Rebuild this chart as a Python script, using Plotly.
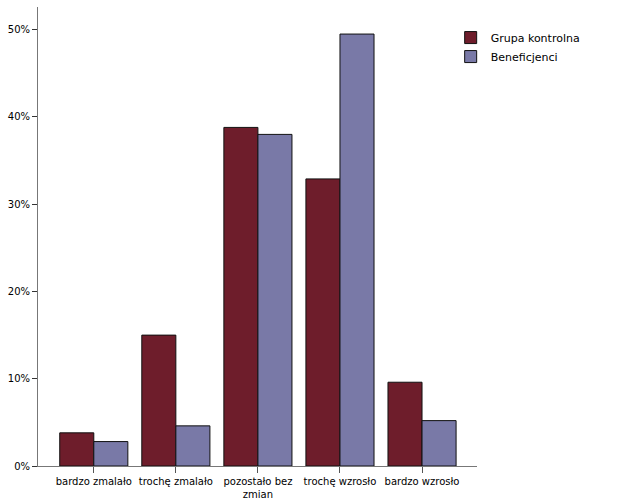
import plotly.graph_objects as go

categories = ["bardzo zmalało", "trochę zmalało", "pozostało bez<br>zmian", "trochę wzrosło", "bardzo wzrosło"]
grupa_kontrolna = [3.8, 15.0, 38.8, 32.9, 9.6]
beneficjenci = [2.8, 4.6, 38.0, 49.5, 5.2]
y_tickvals = [0, 10, 20, 30, 40, 50]
y_ticktext = ["0%", "10%", "20%", "30%", "40%", "50%"]

fig = go.Figure()
fig.add_trace(go.Bar(name="Grupa kontrolna", x=categories, y=grupa_kontrolna,
                     marker=dict(color="#6E1D2B", line=dict(color="#111111", width=1))))
fig.add_trace(go.Bar(name="Beneficjenci", x=categories, y=beneficjenci,
                     marker=dict(color="#7979A7", line=dict(color="#111111", width=1))))

fig.update_layout(
    width=629, height=504,
    barmode="group", bargap=0.17, bargroupgap=0,
    plot_bgcolor="white", paper_bgcolor="white",
    margin=dict(l=38, r=152, t=7, b=38, autoexpand=False),
    font=dict(family="DejaVu Sans", size=10, color="#000000"),
    legend=dict(x=0.94, xanchor="left", y=0.965, yanchor="top",
                font=dict(size=11), tracegroupgap=0, itemwidth=30,
                bgcolor="rgba(0,0,0,0)"),
    showlegend=True,
)
fig.update_xaxes(range=[-0.68, 4.67], showline=True, linecolor="#777777", linewidth=1,
                 ticks="outside", ticklen=6, tickcolor="#555555", showgrid=False,
                 tickangle=0, automargin=False, tickfont=dict(size=10))
fig.update_yaxes(range=[0, 52.6], showline=True, linecolor="#777777", linewidth=1,
                 ticks="outside", ticklen=5, tickcolor="#333333", showgrid=False,
                 tickvals=y_tickvals, ticktext=y_ticktext, zeroline=False,
                 automargin=False, tickfont=dict(size=10))

fig.write_html("out.html", config={"displayModeBar": False},
               post_script="document.body.style.margin='0';")
